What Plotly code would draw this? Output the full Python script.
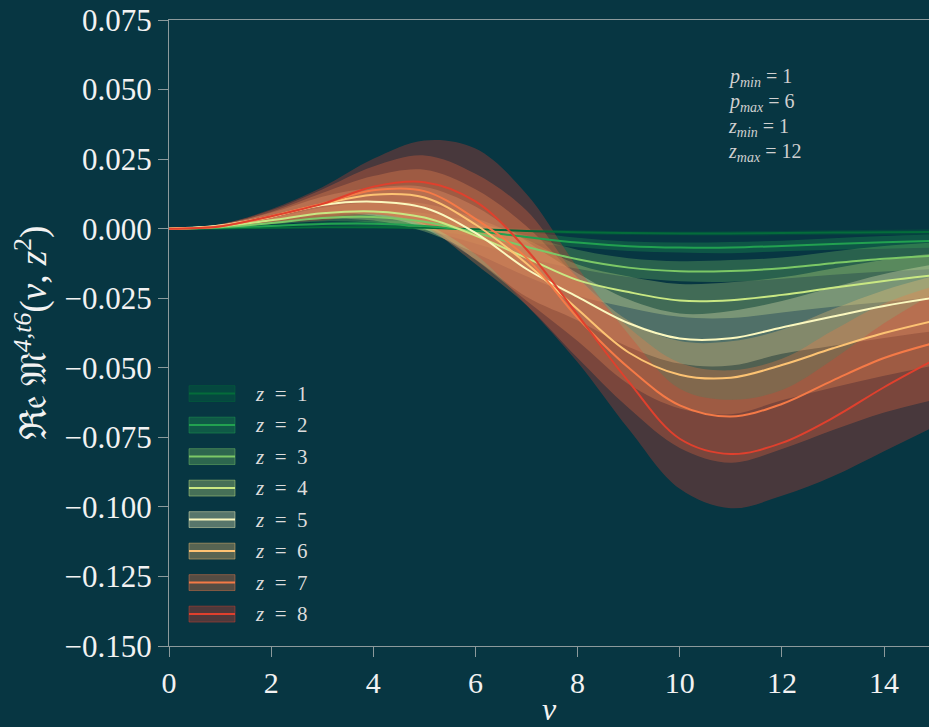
import plotly.graph_objects as go

# ---------------- data ----------------
nu = [0, 1, 2, 3, 4, 5, 6, 7, 8, 9, 10, 11, 12, 13, 14, 15]

z_labels = ["1", "2", "3", "4", "5", "6", "7", "8"]

center_z1 = [0, 0.0001, 0.0003, 0.0005, 0.0005, 0.0003, -0.0002, -0.0008, -0.0013, -0.0016, -0.0017, -0.0017, -0.0016, -0.0014, -0.0013, -0.0012]
center_z2 = [0, 0.0003, 0.0010, 0.0017, 0.0018, 0.0010, -0.0008, -0.0030, -0.0050, -0.0063, -0.0068, -0.0068, -0.0062, -0.0055, -0.0049, -0.0044]
center_z3 = [0, 0.0005, 0.0020, 0.0038, 0.0042, 0.0025, -0.0015, -0.0065, -0.0110, -0.0140, -0.0153, -0.0152, -0.0142, -0.0124, -0.0108, -0.0097]
center_z4 = [0, 0.0008, 0.0030, 0.0055, 0.0062, 0.0040, -0.0025, -0.0105, -0.0185, -0.0228, -0.0258, -0.0257, -0.0238, -0.0212, -0.0188, -0.0167]
center_z5 = [0, 0.0011, 0.0044, 0.0085, 0.0097, 0.0075, -0.0015, -0.0145, -0.0245, -0.0340, -0.0395, -0.0394, -0.0355, -0.0316, -0.0278, -0.0248]
center_z6 = [0, 0.0010, 0.0043, 0.0088, 0.0122, 0.0112, 0.0015, -0.0125, -0.0290, -0.0445, -0.0525, -0.0536, -0.0490, -0.0430, -0.0375, -0.0330]
center_z7 = [0, 0.0009, 0.0045, 0.0090, 0.0138, 0.0135, 0.0035, -0.0105, -0.0320, -0.0500, -0.0635, -0.0675, -0.0630, -0.0545, -0.0465, -0.0410]
center_z8 = [0, 0.0008, 0.0045, 0.0089, 0.0151, 0.0167, 0.0098, -0.0075, -0.0310, -0.0550, -0.0755, -0.0810, -0.0770, -0.0680, -0.0570, -0.0470]

# half-widths of the uncertainty bands
hw_z1 = [0, 0.00003, 0.0001, 0.00024, 0.0004, 0.0006, 0.0008, 0.0008, 0.0007, 0.0007, 0.0007, 0.0008, 0.0008, 0.0008, 0.0009, 0.0010]
hw_z2 = [0, 0.0001, 0.00025, 0.0006, 0.0010, 0.0015, 0.0019, 0.0020, 0.0017, 0.0017, 0.0018, 0.0020, 0.0019, 0.0021, 0.0023, 0.0024]
hw_z3 = [0, 0.00016, 0.0005, 0.0012, 0.0020, 0.0030, 0.0038, 0.0040, 0.0034, 0.0034, 0.0036, 0.0039, 0.0038, 0.0042, 0.0046, 0.0048]
hw_z4 = [0, 0.00026, 0.0008, 0.0020, 0.0033, 0.0050, 0.0063, 0.0066, 0.0056, 0.0056, 0.0059, 0.0064, 0.0063, 0.0069, 0.0076, 0.0079]
hw_z5 = [0, 0.0004, 0.0013, 0.0030, 0.0050, 0.0075, 0.0095, 0.0100, 0.0085, 0.0085, 0.0090, 0.0098, 0.0095, 0.0105, 0.0115, 0.0120]
hw_z6 = [0, 0.0005, 0.0017, 0.0040, 0.0067, 0.0100, 0.0127, 0.0134, 0.0114, 0.0114, 0.0121, 0.0131, 0.0127, 0.0141, 0.0154, 0.0161]
hw_z7 = [0, 0.0007, 0.0021, 0.0051, 0.0085, 0.0128, 0.0162, 0.0170, 0.0145, 0.0145, 0.0153, 0.0166, 0.0162, 0.0179, 0.0196, 0.0204]
hw_z8 = [0, 0.0008, 0.0025, 0.0060, 0.0100, 0.0150, 0.0190, 0.0200, 0.0170, 0.0170, 0.0180, 0.0195, 0.0190, 0.0210, 0.0230, 0.0240]

y_ticks = [0.075, 0.050, 0.025, 0.0, -0.025, -0.050, -0.075, -0.100, -0.125, -0.150]
x_ticks = [0, 2, 4, 6, 8, 10, 12, 14]

param_lines = [("p", "min", "1"), ("p", "max", "6"), ("z", "min", "1"), ("z", "max", "12")]

# ---------------- styling ----------------
centers = [center_z1, center_z2, center_z3, center_z4, center_z5, center_z6, center_z7, center_z8]
halfw = [hw_z1, hw_z2, hw_z3, hw_z4, hw_z5, hw_z6, hw_z7, hw_z8]
colors = [(4, 108, 58), (34, 161, 80), (124, 200, 102), (201, 232, 131),
          (251, 248, 191), (253, 195, 115), (245, 122, 71), (224, 64, 45)]
BG = "#073642"
AXIS = "#8c9a9c"
TXT = "#f2f2f2"
FONT = "Liberation Serif"
BAND_ALPHA = 0.30


def rgba(c, a):
    return "rgba(%d,%d,%d,%.3f)" % (c[0], c[1], c[2], a)


fig = go.Figure()

# bands
for c, hw, col in zip(centers, halfw, colors):
    lower = [m - h for m, h in zip(c, hw)]
    upper = [m + h for m, h in zip(c, hw)]
    fig.add_trace(go.Scatter(x=nu, y=lower, mode="lines",
                             line=dict(width=0, shape="spline", smoothing=1.0),
                             showlegend=False, hoverinfo="skip"))
    fig.add_trace(go.Scatter(x=nu, y=upper, mode="lines", fill="tonexty",
                             fillcolor=rgba(col, BAND_ALPHA),
                             line=dict(width=0, shape="spline", smoothing=1.0),
                             showlegend=False, hoverinfo="skip"))

# central lines
for c, col, lab in zip(centers, colors, z_labels):
    fig.add_trace(go.Scatter(x=nu, y=c, mode="lines", name="z = " + lab,
                             line=dict(color=rgba(col, 1), width=2, shape="spline", smoothing=1.0),
                             showlegend=False))

# ---------------- custom legend (paper coords) ----------------
plot_left_px, plot_w_px = 169, 760
plot_top_px, plot_h_px = 20, 630
def px_x(p):
    return (p - plot_left_px) / plot_w_px
def px_y(p):
    return (plot_top_px + plot_h_px - p) / plot_h_px

shapes = []
annotations = []
row0, row_step = 396.0, 31.7
for i, (col, lab) in enumerate(zip(colors, z_labels)):
    cy = row0 + i * row_step
    shapes.append(dict(type="rect", xref="paper", yref="paper",
                       x0=px_x(189), x1=px_x(235), y0=px_y(cy + 8), y1=px_y(cy - 8),
                       fillcolor=rgba(col, 0.33), line=dict(color=rgba(col, 0.45), width=1)))
    shapes.append(dict(type="line", xref="paper", yref="paper",
                       x0=px_x(189), x1=px_x(235), y0=px_y(cy), y1=px_y(cy),
                       line=dict(color=rgba(col, 1), width=2)))
    annotations.append(dict(xref="paper", yref="paper", x=px_x(253), y=px_y(cy),
                            xanchor="left", yanchor="middle", showarrow=False,
                            text="<i>z</i>  =  " + lab,
                            font=dict(family=FONT, size=21, color="#dcdcdc")))

for i, (v, s, val) in enumerate(param_lines):
    cy = 78 + i * 25
    annotations.append(dict(xref="paper", yref="paper", x=px_x(726), y=px_y(cy),
                            xanchor="left", yanchor="middle", showarrow=False,
                            text="<i>%s</i><sub><i>%s</i></sub> = %s" % (v, s, val),
                            font=dict(family=FONT, size=20, color="#d0d0d0")))

fig.update_layout(
    width=929, height=727,
    margin=dict(l=169, r=0, t=20, b=77, pad=0),
    paper_bgcolor=BG, plot_bgcolor=BG,
    font=dict(family=FONT, color=TXT, size=30),
    showlegend=False,
    shapes=shapes,
    annotations=annotations,
    xaxis=dict(range=[0, 14.88], tickvals=x_ticks, ticktext=[str(t) for t in x_ticks],
               showgrid=False, zeroline=False, showline=True, linecolor=AXIS, linewidth=1,
               mirror=True, ticks="outside", ticklen=10, tickcolor=AXIS, tickwidth=1,
               tickfont=dict(family=FONT, size=30, color=TXT),
               title=dict(text="<i>ν</i>", font=dict(family=FONT, size=32, color=TXT), standoff=6)),
    yaxis=dict(range=[-0.150, 0.075], tickvals=y_ticks, tickformat=".3f",
               showgrid=False, zeroline=False, showline=True, linecolor=AXIS, linewidth=1,
               ticks="outside", ticklen=10, tickcolor=AXIS, tickwidth=1,
               tickfont=dict(family=FONT, size=31, color=TXT),
               title=dict(text="ℜ𝔢 𝔐<sup><i>4,t6</i></sup>(<i>ν</i>, <i>z</i><sup>2</sup>)",
                          font=dict(family=FONT, size=37, color=TXT), standoff=6)),
)

fig.write_html("out.html",
               config={"displayModeBar": False},
               post_script="document.body.style.margin='0px';"
                           "document.body.style.overflow='hidden';"
                           "document.body.style.background='#073642';")
